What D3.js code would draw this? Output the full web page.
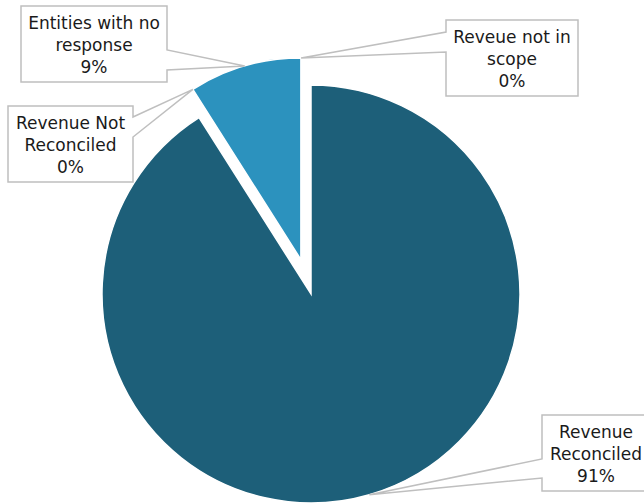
<!DOCTYPE html>
<html>
<head>
<meta charset="utf-8">
<script src="https://cdn.jsdelivr.net/npm/d3@7"></script>
<style>
body { margin: 0; background: #fff; }
</style>
</head>
<body>
<div id="chart"></div>
<script>
var categories = ["Revenue Reconciled", "Revenue Not Reconciled", "Entities with no response", "Reveue not in scope"];
var values = [91, 0, 9, 0];
var labelLines = [["Revenue", "Reconciled"], ["Revenue Not", "Reconciled"], ["Entities with no", "response"], ["Reveue not in", "scope"]];
var colors = ["#1d5f79", "#1d5f79", "#2c92be", "#2c92be"];

var width = 644, height = 503;
var cx = 311, cy = 294;
var radius = 209, explodedRadius = 202, explodeDist = 35.5;

// callout boxes (layout only): box + where the wedge leaves the box
var callouts = [
  {x: 542, y: 415, w: 108, h: 76, side: "left", a1: 44, a2: 63},
  {x: 8, y: 106, w: 125, h: 76, side: "right", a1: 11, a2: 31},
  {x: 21, y: 6, w: 146, h: 76, side: "right", a1: 44, a2: 64},
  {x: 446, y: 20, w: 132, h: 76, side: "left", a1: 12, a2: 32}
];

var svg = d3.select("#chart")
            .append("svg")
            .attr("width", width)
            .attr("height", height);

var pie = d3.pie().sort(null).value(function(d){ return d; });
var arcs = pie(values);

// every slice after the first one is pulled out together
var groupAngle = (arcs[1].startAngle + arcs[arcs.length - 1].endAngle) / 2;
function offset(i) {
    if (i === 0) return [0, 0];
    return [explodeDist * Math.sin(groupAngle), -explodeDist * Math.cos(groupAngle)];
}
function sliceRadius(i) { return i === 0 ? radius : explodedRadius; }

var arc = d3.arc().innerRadius(0);

svg.selectAll("path.slice")
   .data(arcs)
   .enter()
   .append("path")
   .attr("class", "slice")
   .attr("d", function(d, i){ return arc.outerRadius(sliceRadius(i))(d); })
   .attr("transform", function(d, i){
       var o = offset(i);
       return "translate(" + (cx + o[0]) + "," + (cy + o[1]) + ")";
   })
   .attr("fill", function(d, i){ return colors[i]; })
   .attr("stroke", "#fff")
   .attr("stroke-width", 1.5);

function anchor(d, i) {
    var a = (d.startAngle + d.endAngle) / 2;
    var r = sliceRadius(i), o = offset(i);
    return [cx + o[0] + r * Math.sin(a), cy + o[1] - r * Math.cos(a)];
}

function calloutPath(c, tip) {
    var x0 = c.x, y0 = c.y, x1 = c.x + c.w, y1 = c.y + c.h;
    if (c.side === "right") {
        return "M" + x0 + "," + y0 + "H" + x1 + "V" + (y0 + c.a1) +
               "L" + tip[0] + "," + tip[1] + "L" + x1 + "," + (y0 + c.a2) +
               "V" + y1 + "H" + x0 + "Z";
    }
    return "M" + x0 + "," + y0 + "H" + x1 + "V" + y1 + "H" + x0 +
           "V" + (y0 + c.a2) + "L" + tip[0] + "," + tip[1] +
           "L" + x0 + "," + (y0 + c.a1) + "Z";
}

var labels = svg.selectAll("g.callout")
   .data(arcs)
   .enter()
   .append("g")
   .attr("class", "callout");

labels.append("path")
   .attr("d", function(d, i){ return calloutPath(callouts[i], anchor(d, i)); })
   .attr("fill", "#fff")
   .attr("stroke", "#bfbfbf")
   .attr("stroke-width", 1.5)
   .attr("stroke-linejoin", "miter");

labels.append("text")
   .attr("text-anchor", "middle")
   .attr("font-family", "'DejaVu Sans', sans-serif")
   .attr("font-size", 17)
   .attr("fill", "#1a1a1a")
   .each(function(d, i){
       var c = callouts[i];
       var lines = labelLines[i].concat([d3.format(".0f")(values[i]) + "%"]);
       d3.select(this).selectAll("tspan")
         .data(lines)
         .enter()
         .append("tspan")
         .attr("x", c.x + c.w / 2)
         .attr("y", function(t, k){ return c.y + 23 + k * 22; })
         .text(function(t){ return t; });
   });
</script>
</body>
</html>
